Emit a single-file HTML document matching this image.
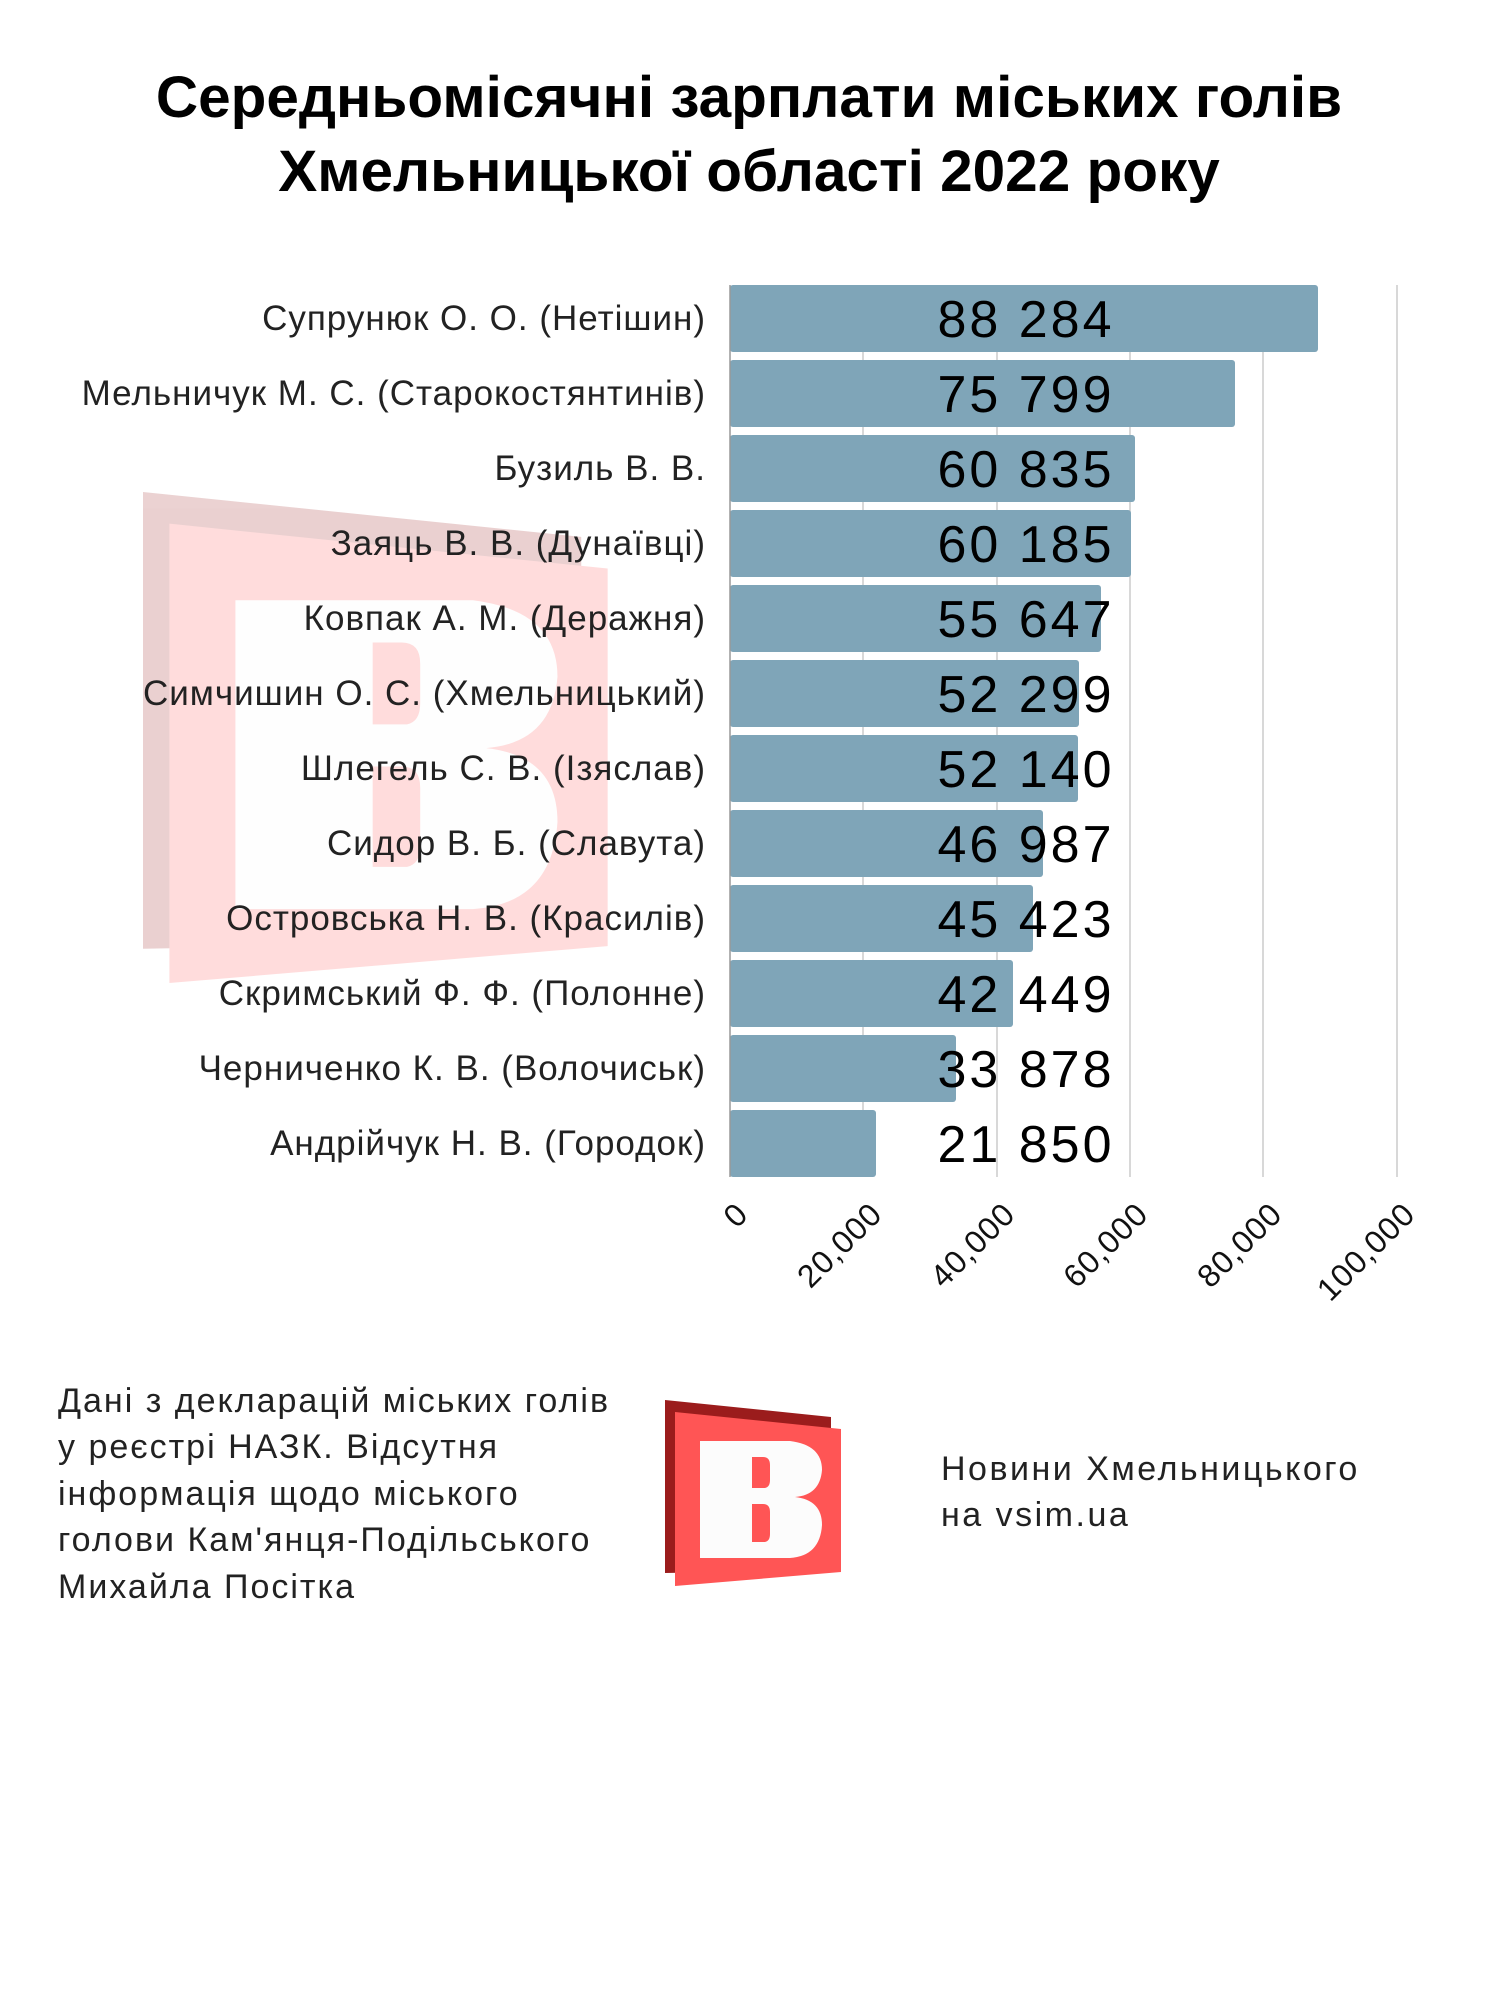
<!DOCTYPE html>
<html><head><meta charset="utf-8"><style>
html,body{margin:0;padding:0;background:#fff}
svg{display:block}
text{font-family:"Liberation Sans",sans-serif}
</style></head><body>
<svg width="1500" height="2000" viewBox="0 0 1500 2000" xmlns="http://www.w3.org/2000/svg">
<rect width="1500" height="2000" fill="#fff"/>
<!-- watermark -->
<g transform="translate(143,492) scale(2.64) translate(-665,-1400)" opacity="0.2">
<polygon points="665,1400 831,1417 831,1570 665,1573" fill="#9b1c1c"/>
<polygon points="675,1412 841,1429 841,1572 675,1586" fill="#ff5555"/>
<path d="M700,1441 H790 Q822,1445 822,1470 Q820,1495 795,1497 Q822,1500 822,1525 Q820,1556 790,1558 H700 Z M752,1457 V1488 H765 Q770,1487 770,1480 V1465 Q770,1457 763,1457 Z M752,1504 V1542 H765 Q770,1541 770,1534 V1512 Q770,1504 763,1504 Z" fill="#fcfcfc" fill-rule="evenodd"/>
</g>
<!-- title -->
<text x="749" y="117" font-size="58.5" font-weight="bold" text-anchor="middle">Середньомісячні зарплати міських голів</text>
<text x="749" y="191" font-size="58.5" font-weight="bold" text-anchor="middle">Хмельницької області 2022 року</text>
<!-- gridlines -->
<g stroke="#cccccc" stroke-width="1.5">
<line x1="863" y1="285" x2="863" y2="1177"/>
<line x1="997" y1="285" x2="997" y2="1177"/>
<line x1="1130" y1="285" x2="1130" y2="1177"/>
<line x1="1263" y1="285" x2="1263" y2="1177"/>
<line x1="1397" y1="285" x2="1397" y2="1177"/>
</g>
<!-- bars -->
<g fill="#7fa5b8">
<rect x="730" y="285" width="588" height="67" rx="3"/>
<rect x="730" y="360" width="505" height="67" rx="3"/>
<rect x="730" y="435" width="405" height="67" rx="3"/>
<rect x="730" y="510" width="401" height="67" rx="3"/>
<rect x="730" y="585" width="371" height="67" rx="3"/>
<rect x="730" y="660" width="349" height="67" rx="3"/>
<rect x="730" y="735" width="348" height="67" rx="3"/>
<rect x="730" y="810" width="313" height="67" rx="3"/>
<rect x="730" y="885" width="303" height="67" rx="3"/>
<rect x="730" y="960" width="283" height="67" rx="3"/>
<rect x="730" y="1035" width="226" height="67" rx="3"/>
<rect x="730" y="1110" width="146" height="67" rx="3"/>
</g>
<line x1="730" y1="285" x2="730" y2="1177" stroke="#999" stroke-width="1.5"/>
<!-- names -->
<g font-size="35" fill="#222" text-anchor="end" letter-spacing="1">
<text x="706" y="330">Супрунюк О. О. (Нетішин)</text>
<text x="706" y="405">Мельничук М. С. (Старокостянтинів)</text>
<text x="706" y="480">Бузиль В. В.</text>
<text x="706" y="555">Заяць В. В. (Дунаївці)</text>
<text x="706" y="630">Ковпак А. М. (Деражня)</text>
<text x="706" y="705">Симчишин О. С. (Хмельницький)</text>
<text x="706" y="780">Шлегель С. В. (Ізяслав)</text>
<text x="706" y="855">Сидор В. Б. (Славута)</text>
<text x="706" y="930">Островська Н. В. (Красилів)</text>
<text x="706" y="1005">Скримський Ф. Ф. (Полонне)</text>
<text x="706" y="1080">Черниченко К. В. (Волочиськ)</text>
<text x="706" y="1155">Андрійчук Н. В. (Городок)</text>
</g>
<!-- values -->
<g font-size="52" fill="#000" text-anchor="middle" letter-spacing="3">
<text x="1026" y="337">88 284</text>
<text x="1026" y="412">75 799</text>
<text x="1026" y="487">60 835</text>
<text x="1026" y="562">60 185</text>
<text x="1026" y="637">55 647</text>
<text x="1026" y="712">52 299</text>
<text x="1026" y="787">52 140</text>
<text x="1026" y="862">46 987</text>
<text x="1026" y="937">45 423</text>
<text x="1026" y="1012">42 449</text>
<text x="1026" y="1087">33 878</text>
<text x="1026" y="1162">21 850</text>
</g>
<!-- axis labels -->
<g font-size="32" fill="#111" text-anchor="end" letter-spacing="1">
<text transform="translate(750,1216) rotate(-45)">0</text>
<text transform="translate(884,1216) rotate(-45)">20,000</text>
<text transform="translate(1017,1216) rotate(-45)">40,000</text>
<text transform="translate(1150,1216) rotate(-45)">60,000</text>
<text transform="translate(1284,1216) rotate(-45)">80,000</text>
<text transform="translate(1417,1216) rotate(-45)">100,000</text>
</g>
<!-- footer -->
<g font-size="34" fill="#222" letter-spacing="2">
<text x="58" y="1412">Дані з декларацій міських голів</text>
<text x="58" y="1458">у реєстрі НАЗК. Відсутня</text>
<text x="58" y="1505">інформація щодо міського</text>
<text x="58" y="1551">голови Кам'янця-Подільського</text>
<text x="58" y="1598">Михайла Посітка</text>
</g>
<g font-size="34" fill="#222" letter-spacing="2.5">
<text x="941" y="1480">Новини Хмельницького</text>
<text x="941" y="1526">на vsim.ua</text>
</g>
<polygon points="665,1400 831,1417 831,1570 665,1573" fill="#9b1c1c"/>
<polygon points="675,1412 841,1429 841,1572 675,1586" fill="#ff5555"/>
<path d="M700,1441 H790 Q822,1445 822,1470 Q820,1495 795,1497 Q822,1500 822,1525 Q820,1556 790,1558 H700 Z M752,1457 V1488 H765 Q770,1487 770,1480 V1465 Q770,1457 763,1457 Z M752,1504 V1542 H765 Q770,1541 770,1534 V1512 Q770,1504 763,1504 Z" fill="#fcfcfc" fill-rule="evenodd"/>
</svg>
</body></html>
